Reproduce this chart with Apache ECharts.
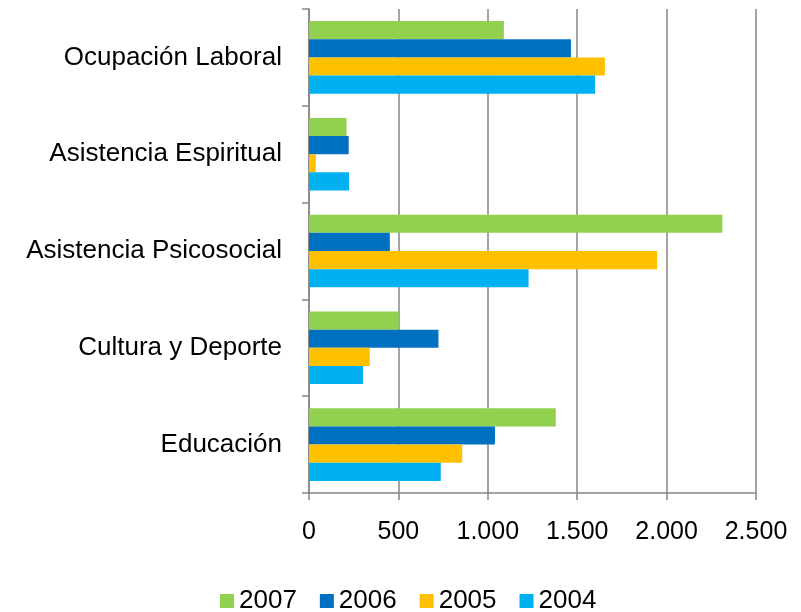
<!DOCTYPE html>
<html>
<head>
<meta charset="utf-8">
<script src="https://cdn.jsdelivr.net/npm/echarts@6/dist/echarts.min.js"></script>
<style>
  html, body { margin: 0; padding: 0; background: #fff; }
  #main { width: 801px; height: 612px; }
</style>
</head>
<body>
<div id="main"></div>
<script>
// categorias de abajo hacia arriba (eje y)
var categorias = ['Educación', 'Cultura y Deporte', 'Asistencia Psicosocial', 'Asistencia Espiritual', 'Ocupación Laboral'];
var anios = ['2007', '2006', '2005', '2004'];
var v2007 = [1380, 502, 2312, 210, 1090];
var v2006 = [1040, 724, 452, 222, 1465];
var v2005 = [857, 340, 1947, 38, 1655];
var v2004 = [737, 302, 1228, 224, 1600];
var ticksX = [0, 500, 1000, 1500, 2000, 2500];

var colores = {'2007': '#92D050', '2006': '#0070C0', '2005': '#FFC000', '2004': '#00B0F0'};
var datos = {'2007': v2007, '2006': v2006, '2005': v2005, '2004': v2004};
var fuente = '"Liberation Sans", Arial, sans-serif';
var gris = '#868686';

function miles(v) {
    return String(v).replace(/\B(?=(\d{3})+(?!\d))/g, '.');
}

var myChart = echarts.init(document.getElementById('main'));

// la primera serie queda arriba en cada categoria
var series = anios.map(function (a) {
    return {
        name: a,
        type: 'bar',
        data: datos[a],
        itemStyle: {color: colores[a]},
        barGap: '0%',
        barCategoryGap: '25%'
    };
});

var option = {
    animation: false,
    textStyle: {fontFamily: fuente},
    grid: {left: 309, right: 45, top: 9, bottom: 119, containLabel: false},
    legend: {
        data: anios,
        top: 588,
        left: 220,
        padding: 0,
        itemWidth: 14,
        itemHeight: 14,
        itemGap: 23,
        icon: 'rect',
        textStyle: {fontSize: 26, color: '#000', fontFamily: fuente}
    },
    xAxis: {
        type: 'value',
        min: ticksX[0],
        max: ticksX[ticksX.length - 1],
        interval: 500,
        axisLine: {show: true, lineStyle: {color: gris, width: 1.5}},
        axisTick: {show: true, length: 7, lineStyle: {color: gris, width: 1.5}},
        splitLine: {show: true, lineStyle: {color: gris, width: 1.5}},
        axisLabel: {
            fontSize: 25, color: '#000', margin: 27, fontFamily: fuente,
            formatter: function (v) { return miles(v); }
        }
    },
    yAxis: {
        type: 'category',
        data: categorias,
        axisLine: {show: true, lineStyle: {color: gris, width: 1.5}},
        axisTick: {show: true, length: 7, lineStyle: {color: gris, width: 1.5}},
        splitLine: {show: false},
        axisLabel: {fontSize: 26, color: '#000', margin: 27, fontFamily: fuente}
    },
    series: series
};

myChart.setOption(option);
</script>
</body>
</html>
